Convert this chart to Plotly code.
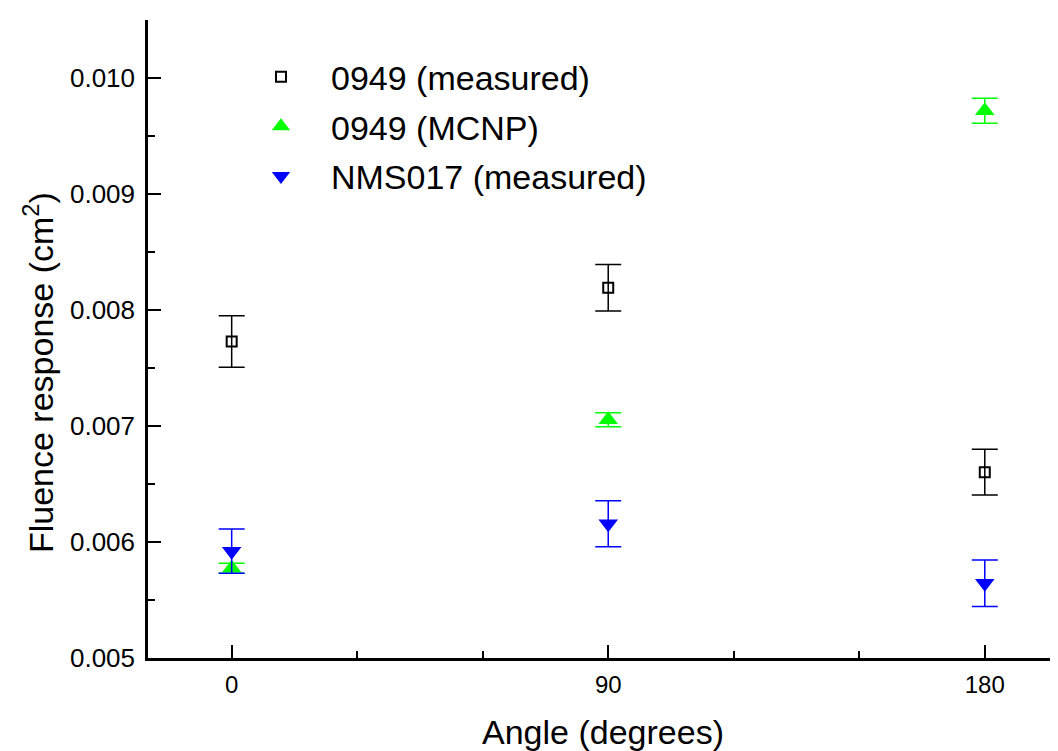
import plotly.graph_objects as go

angles = [0, 90, 180]
meas_0949 = [0.007728, 0.008192, 0.006602]
meas_0949_err = [0.000222, 0.000201, 0.000197]
mcnp_0949 = [0.005773, 0.007054, 0.009717]
mcnp_0949_err = [0.000043, 0.00006, 0.000108]
nms017 = [0.005921, 0.006158, 0.005644]
nms017_err = [0.00019, 0.000198, 0.0002]

FONT = "Liberation Sans, Arial, sans-serif"

fig = go.Figure()
fig.add_trace(go.Scatter(
    x=angles, y=meas_0949, mode="markers", name="0949 (measured)", legendgroup="a",
    marker=dict(symbol="square-open", size=10, color="black", line=dict(width=2, color="black")),
    error_y=dict(type="data", array=meas_0949_err, color="black", thickness=1.5, width=13),
))
fig.add_trace(go.Scatter(
    x=angles, y=mcnp_0949, mode="markers", name="0949 (MCNP)", legendgroup="b",
    marker=dict(symbol="triangle-up", size=17, color="#00ff00"),
    error_y=dict(type="data", array=mcnp_0949_err, color="#00ff00", thickness=1.5, width=13),
))
fig.add_trace(go.Scatter(
    x=angles, y=nms017, mode="markers", name="NMS017 (measured)", legendgroup="c",
    marker=dict(symbol="triangle-down", size=17, color="#0000ff"),
    error_y=dict(type="data", array=nms017_err, color="#0000ff", thickness=1.5, width=13),
))

# page body has an 8px margin, so the figure is sized/offset to compensate
fig.update_layout(
    width=1050, height=743,
    margin=dict(l=140, r=0, t=12, b=93),
    paper_bgcolor="white", plot_bgcolor="white",
    font=dict(family=FONT, color="black"),
    legend=dict(
        x=0.0912, y=0.956, xanchor="left", yanchor="top",
        font=dict(size=34, family=FONT), itemwidth=90,
        bgcolor="rgba(0,0,0,0)", tracegroupgap=2.5,
    ),
    showlegend=True,
    annotations=[dict(
        text="Fluence response (cm<sup>2</sup>)", textangle=-90,
        xref="paper", yref="paper", x=-0.121, y=0.448,
        xanchor="center", yanchor="middle", showarrow=False,
        font=dict(size=34, family=FONT, color="black"),
    )],
)
fig.update_xaxes(
    range=[-20, 197.5], tickvals=[0, 90, 180], ticktext=["0", "90", "180"],
    ticks="inside", ticklen=13, tickwidth=2, tickcolor="black",
    minor=dict(dtick=30, tick0=0, ticks="inside", ticklen=7, tickwidth=2, tickcolor="black"),
    showline=True, linecolor="black", linewidth=2.5, showgrid=False, zeroline=False,
    tickfont=dict(size=24, family=FONT), ticklabelstandoff=3, automargin=False,
    title=dict(text="Angle (degrees)", font=dict(size=34, family=FONT), standoff=35),
)
fig.update_yaxes(
    range=[0.005, 0.0105], tickvals=[0.005, 0.006, 0.007, 0.008, 0.009, 0.010],
    ticktext=["0.005", "0.006", "0.007", "0.008", "0.009", "0.010"],
    ticks="inside", ticklen=13, tickwidth=2, tickcolor="black",
    minor=dict(dtick=0.0005, tick0=0.005, ticks="inside", ticklen=7, tickwidth=2, tickcolor="black"),
    showline=True, linecolor="black", linewidth=2.5, showgrid=False, zeroline=False,
    tickfont=dict(size=26, family=FONT), ticklabelstandoff=5, automargin=False,
)

fig.write_html("out.html")
